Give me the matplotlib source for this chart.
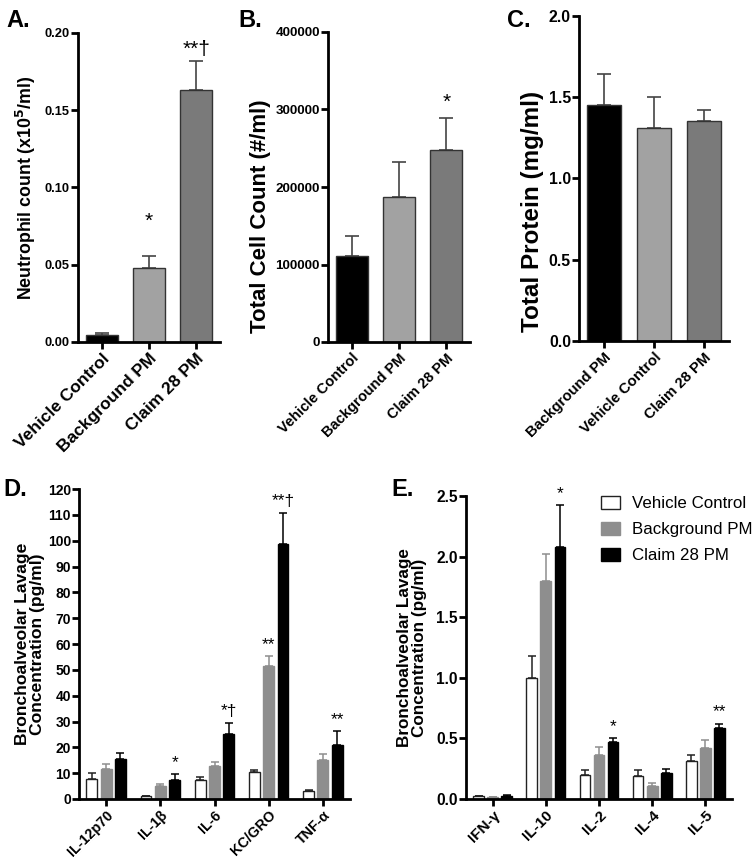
import matplotlib
matplotlib.use("Agg")
import matplotlib.pyplot as plt
import numpy as np
from matplotlib.patches import Patch

plt.rcParams['font.family'] = ['Liberation Sans', 'DejaVu Sans']
plt.rcParams['font.weight'] = 'bold'

# ---------------- data ----------------
a_cats = ["Vehicle Control", "Background PM", "Claim 28 PM"]
a_vals = [0.0048, 0.048, 0.163]
a_errs = [0.0008, 0.0076, 0.019]
a_sig = ["", "*", "**†"]

b_cats = ["Vehicle Control", "Background PM", "Claim 28 PM"]
b_vals = [111500, 186600, 247500]
b_errs = [25800, 45300, 41000]
b_sig = ["", "", "*"]

c_cats = ["Background PM", "Vehicle Control", "Claim 28 PM"]
c_vals = [1.454, 1.311, 1.354]
c_errs = [0.189, 0.193, 0.068]

abc_colors = ["#000000", "#a2a2a2", "#7a7a7a"]

series = ["Vehicle Control", "Background PM", "Claim 28 PM"]

d_cats = ["IL-12p70", "IL-1β", "IL-6", "KC/GRO", "TNF-α"]
d_vc = [7.7, 1.0, 7.5, 10.5, 3.2]
d_vc_err = [2.4, 0.2, 1.0, 0.8, 0.4]
d_bg = [11.6, 4.9, 12.6, 51.6, 15.0]
d_bg_err = [2.1, 0.9, 1.6, 3.8, 2.3]
d_cl = [15.6, 7.5, 25.2, 98.7, 21.0]
d_cl_err = [2.2, 2.2, 4.2, 12.0, 5.2]
d_sig_bg = ["", "", "", "**", ""]
d_sig_cl = ["", "*", "*†", "**†", "**"]

e_cats = ["IFN-γ", "IL-10", "IL-2", "IL-4", "IL-5"]
e_vc = [0.022, 1.0, 0.2, 0.192, 0.316]
e_vc_err = [0.005, 0.176, 0.036, 0.044, 0.047]
e_bg = [0.016, 1.802, 0.365, 0.11, 0.42]
e_bg_err = [0.004, 0.217, 0.061, 0.022, 0.069]
e_cl = [0.025, 2.082, 0.47, 0.214, 0.585]
e_cl_err = [0.005, 0.341, 0.03, 0.033, 0.036]
e_sig_cl = ["", "*", "*", "", "**"]

de_fill = ["white", "#8e8e8e", "black"]
de_edge = ["#222222", "#8e8e8e", "black"]

W, H = 755, 858
fig = plt.figure(figsize=(W / 100, H / 100), dpi=100)


def style_axes(ax, tick_fs):
    for s in ["top", "right"]:
        ax.spines[s].set_visible(False)
    for s in ["left", "bottom"]:
        ax.spines[s].set_linewidth(2.0)
    ax.tick_params(axis='both', width=2.0, length=5, direction='out')
    ax.tick_params(axis='x', pad=1.5)
    ax.tick_params(axis='y', labelsize=tick_fs, pad=0.8)
    for lab in ax.get_yticklabels():
        lab.set_fontweight('bold')


def simple_panel(rect, cats, vals, errs, colors, ylim, yticks, yfmt, ylabel,
                 sig, letter, letter_xy, ytick_fs, xtick_fs, ylabel_fs,
                 sig_fs, sig_off, label_coords=None):
    ax = fig.add_axes(rect)
    x = np.arange(len(cats))
    ax.bar(x, vals, width=0.68, color=colors, edgecolor="#333333",
           linewidth=1.0, zorder=2)
    ax.errorbar(x, vals, yerr=[np.zeros(len(vals)), errs], fmt='none',
                ecolor="#444444", elinewidth=1.2, capsize=5, capthick=1.2,
                zorder=1)
    ax.set_xlim(-0.5, len(cats) - 0.5)
    ax.set_ylim(*ylim)
    ax.set_yticks(yticks)
    ax.set_yticklabels([yfmt.format(v) for v in yticks])
    ax.set_xticks(x)
    ax.set_xticklabels(cats, rotation=45, ha='right', rotation_mode='anchor',
                       fontsize=xtick_fs, fontweight='bold')
    ax.set_ylabel(ylabel, fontsize=ylabel_fs, fontweight='bold', labelpad=5)
    if label_coords is not None:
        ax.yaxis.set_label_coords(*label_coords)
    style_axes(ax, ytick_fs)
    if sig:
        for xi, v, e, s, o in zip(x, vals, errs, sig, sig_off):
            if s:
                ax.annotate(s, (xi, v + e), xytext=(0, o),
                            textcoords='offset points', ha='center',
                            va='bottom', fontsize=sig_fs, fontweight='normal')
    fig.text(letter_xy[0], letter_xy[1], letter, fontsize=17,
             fontweight='bold', va='top', ha='left')
    return ax


# Panel A
simple_panel([78 / W, 1 - 342 / H, 142 / W, 309 / H], a_cats, a_vals, a_errs,
             abc_colors, (0, 0.2), [0, 0.05, 0.10, 0.15, 0.20], "{:.2f}",
             "Neutrophil count (x10$^\\mathbf{5}$/ml)", a_sig, "A.",
             (0.008, 0.990), 9.3, 12.5, 12.8, 15, [0, 18, 1])

# Panel B
simple_panel([328 / W, 1 - 342 / H, 142 / W, 310 / H], b_cats, b_vals, b_errs,
             abc_colors, (0, 400000), [0, 100000, 200000, 300000, 400000],
             "{:d}", "Total Cell Count (#/ml)", b_sig, "B.", (0.316, 0.990),
             9.7, 10.5, 16, 15, [0, 0, 5], label_coords=(-0.40, 0.405))

# Panel C
simple_panel([579 / W, 1 - 341 / H, 150 / W, 325 / H], c_cats, c_vals, c_errs,
             abc_colors, (0, 2.0), [0, 0.5, 1.0, 1.5, 2.0], "{:.1f}",
             "Total Protein (mg/ml)", None, "C.", (0.671, 0.990),
             11.4, 10.7, 17.5, 15, [0, 0, 0], label_coords=(-0.23, 0.40))


def grouped_panel(rect, cats, vals_list, errs_list, ylim, yticks, yfmt,
                  sig_lists, letter, letter_xy, ytick_fs, xtick_fs,
                  ylabel_fs, label_coords, legend=False):
    ax = fig.add_axes(rect)
    x = np.arange(len(cats))
    offs = [-0.265, 0.0, 0.265]
    w = 0.2
    for i, (vals, errs) in enumerate(zip(vals_list, errs_list)):
        ax.bar(x + offs[i], vals, width=w, color=de_fill[i],
               edgecolor=de_edge[i], linewidth=1.0, zorder=2,
               label=series[i])
        ax.errorbar(x + offs[i], vals, yerr=[np.zeros(len(vals)), errs],
                    fmt='none', ecolor=de_edge[i], elinewidth=1.1,
                    capsize=3, capthick=1.1, zorder=1)
    for i, sig in sig_lists:
        for xi, v, e, s in zip(x, vals_list[i], errs_list[i], sig):
            if s:
                ax.annotate(s, (xi + offs[i], v + e), xytext=(0, 3),
                            textcoords='offset points', ha='center',
                            va='bottom', fontsize=12.5, fontweight='normal')
    ax.set_xlim(-0.5, len(cats) - 0.5)
    ax.set_ylim(*ylim)
    ax.set_yticks(yticks)
    ax.set_yticklabels([yfmt.format(v) for v in yticks])
    ax.set_xticks(x)
    ax.set_xticklabels(cats, rotation=45, ha='right', rotation_mode='anchor',
                       fontsize=xtick_fs, fontweight='bold')
    ax.set_ylabel("Bronchoalveolar Lavage\nConcentration (pg/ml)",
                  fontsize=ylabel_fs, fontweight='bold', linespacing=1.0)
    ax.yaxis.set_label_coords(*label_coords)
    style_axes(ax, ytick_fs)
    fig.text(letter_xy[0], letter_xy[1], letter, fontsize=17,
             fontweight='bold', va='top', ha='left')
    if legend:
        handles = [Patch(facecolor=de_fill[i], edgecolor=de_edge[i],
                         label=series[i]) for i in range(3)]
        fig.legend(handles=handles, loc='upper left',
                   bbox_to_anchor=(601 / W, 1 - 496 / H), frameon=False,
                   prop={'weight': 'normal', 'size': 12.2},
                   handlelength=1.1, handleheight=0.8, borderpad=0,
                   borderaxespad=0, handletextpad=0.7, labelspacing=0.62)
    return ax


grouped_panel([79 / W, 1 - 799 / H, 271 / W, 310 / H], d_cats,
              [d_vc, d_bg, d_cl], [d_vc_err, d_bg_err, d_cl_err],
              (0, 120), list(range(0, 121, 10)), "{:d}",
              [(1, d_sig_bg), (2, d_sig_cl)], "D.", (0.005, 0.443),
              10.0, 10.3, 12.6, (-0.125, 0.5))

grouped_panel([466 / W, 1 - 799 / H, 266 / W, 303 / H], e_cats,
              [e_vc, e_bg, e_cl], [e_vc_err, e_bg_err, e_cl_err],
              (0, 2.5), [0, 0.5, 1.0, 1.5, 2.0, 2.5], "{:.1f}",
              [(2, e_sig_cl)], "E.", (0.518, 0.443),
              11.2, 11.0, 12.3, (-0.145, 0.5), legend=True)

fig.savefig("out.png", dpi=100)
